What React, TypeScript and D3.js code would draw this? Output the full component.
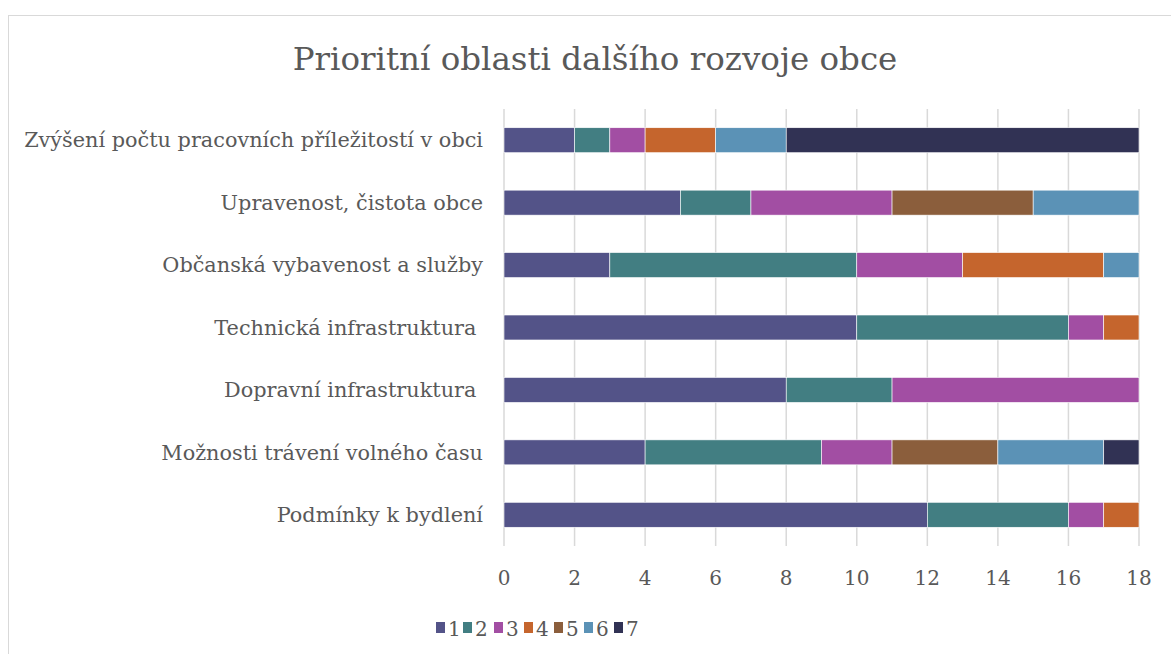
import React from "react";
import * as d3 from "d3";

const categories = [
  "Zvýšení počtu pracovních příležitostí v obci",
  "Upravenost, čistota obce",
  "Občanská vybavenost a služby",
  "Technická infrastruktura ",
  "Dopravní infrastruktura ",
  "Možnosti trávení volného času",
  "Podmínky k bydlení",
];
const seriesNames = ["1", "2", "3", "4", "5", "6", "7"];
const s1 = [2, 5, 3, 10, 8, 4, 12];
const s2 = [1, 2, 7, 6, 3, 5, 4];
const s3 = [1, 4, 3, 1, 7, 2, 1];
const s4 = [2, 0, 4, 1, 0, 0, 1];
const s5 = [0, 4, 0, 0, 0, 3, 0];
const s6 = [2, 3, 1, 0, 0, 3, 0];
const s7 = [10, 0, 0, 0, 0, 1, 0];
const xTicks = [0, 2, 4, 6, 8, 10, 12, 14, 16, 18];
const colors = ["#535388", "#427E82", "#A24EA3", "#C5652D", "#8B5E3C", "#5B92B6", "#313254"];

const W = 1171;
const H = 654;
const FONT = "'DejaVu Serif', serif";
const TXT = "#595959";

export default function App() {
  const seriesVals = [s1, s2, s3, s4, s5, s6, s7];
  const rows = categories.map((c, i) => {
    const r: any = { cat: c };
    seriesNames.forEach((s, j) => (r[s] = seriesVals[j][i]));
    return r;
  });
  const stacked = d3.stack<any>().keys(seriesNames)(rows);
  const x = d3.scaleLinear().domain([0, 18]).range([504, 1139]);
  const y = d3.scaleBand<string>().domain(categories).range([109, 546]).paddingInner(0.6).paddingOuter(0.3);

  const legendX = [436, 463, 494, 524, 554, 584, 614];

  return (
    <svg width={W} height={H} style={{ position: "absolute", left: 0, top: 0 }}>
      <rect x={0} y={0} width={W} height={H} fill="#fff" />
      <rect x={8.5} y={15.5} width={W} height={H} fill="#fff" stroke="#d9d9d9" strokeWidth={1} />
      <text x={595} y={70} textAnchor="middle" fontFamily={FONT} fontSize={32.5} fill={TXT}>
        Prioritní oblasti dalšího rozvoje obce
      </text>
      {xTicks.map((t) => (
        <line key={t} x1={x(t)} x2={x(t)} y1={109} y2={546} stroke="#d9d9d9" strokeWidth={1.5} />
      ))}
      {stacked.map((layer, j) =>
        layer.map((d, i) =>
          d[1] - d[0] > 0 ? (
            <rect
              key={`${j}-${i}`}
              x={x(d[0])}
              y={y(categories[i])}
              width={x(d[1]) - x(d[0])}
              height={y.bandwidth()}
              fill={colors[j]}
              stroke="#fff"
              strokeWidth={0.6}
            />
          ) : null
        )
      )}
      {categories.map((c) => (
        <text key={c} x={483} y={(y(c) as number) + y.bandwidth() / 2} dy="0.35em" textAnchor="end" fontFamily={FONT} fontSize={20.8} fill={TXT} style={{ whiteSpace: "pre" }}>
          {c}
        </text>
      ))}
      {xTicks.map((t) => (
        <text key={t} x={x(t)} y={585} textAnchor="middle" fontFamily={FONT} fontSize={20} fill={TXT}>
          {t}
        </text>
      ))}
      {seriesNames.map((s, j) => (
        <g key={s}>
          <rect x={legendX[j]} y={622} width={9} height={11} fill={colors[j]} />
          <text x={legendX[j] + 12} y={636} fontFamily={FONT} fontSize={20} fill={TXT}>
            {s}
          </text>
        </g>
      ))}
    </svg>
  );
}
